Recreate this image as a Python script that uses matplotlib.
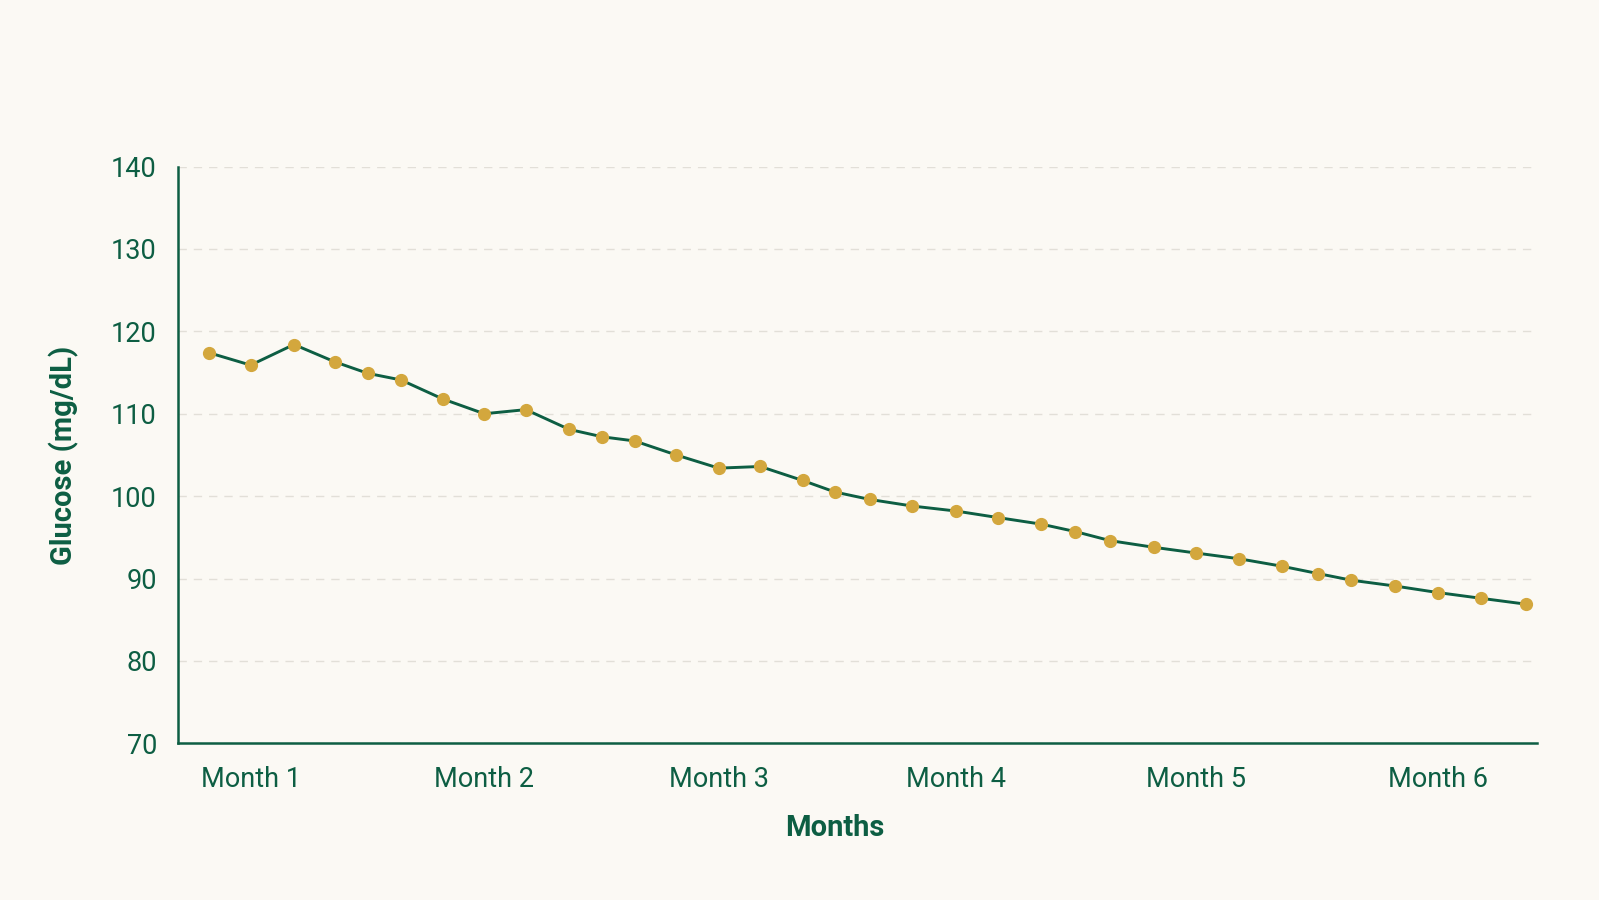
import matplotlib.pyplot as plt

# ----------------------------
# Data
# ----------------------------
days = [0, 4.9, 10, 14.8, 18.7, 22.6, 27.5, 32.4, 37.3, 42.4, 46.3, 50.1,
        55, 60, 64.9, 69.9, 73.7, 77.8, 82.8, 87.9, 92.9, 98, 102, 106.1,
        111.2, 116.2, 121.3, 126.3, 130.6, 134.5, 139.6, 144.7, 149.8, 155]
glucose = [117.4, 115.9, 118.4, 116.3, 114.9, 114.1, 111.8, 110.0, 110.5,
           108.1, 107.2, 106.7, 105.0, 103.4, 103.6, 101.9, 100.5, 99.6,
           98.8, 98.2, 97.4, 96.6, 95.7, 94.6, 93.8, 93.1, 92.4, 91.5, 90.6,
           89.8, 89.1, 88.3, 87.6, 86.9]
month_labels = ["Month 1", "Month 2", "Month 3", "Month 4", "Month 5", "Month 6"]
y_ticks = [70, 80, 90, 100, 110, 120, 130, 140]

# ----------------------------
# Style
# ----------------------------
bg = "#fbf9f4"
green = "#0d5e43"
gold = "#d3a73d"
grid_col = "#e2dfd8"

plt.rcParams["font.family"] = ["Roboto", "DejaVu Sans"]

fig = plt.figure(figsize=(15.99, 9.0), dpi=100, facecolor=bg)
ax = fig.add_axes([0.1116, 0.174, 0.8494, 0.641])
ax.set_facecolor(bg)

ax.plot(days, glucose, color=green, linewidth=2.1, zorder=3)
ax.plot(days, glucose, linestyle="none", marker="o", markersize=8.5,
        markerfacecolor=gold, markeredgecolor=gold, zorder=4)

ax.set_xlim(-3.6, 156.3)
ax.set_ylim(70, 140)
ax.set_yticks(y_ticks)
ax.set_xticks(days[1::6])
ax.set_xticklabels(month_labels)

ax.yaxis.grid(True, color=grid_col, linestyle=(0, (6, 5)), linewidth=1.0)
ax.set_axisbelow(True)

for side in ["top", "right"]:
    ax.spines[side].set_visible(False)
for side in ["left", "bottom"]:
    ax.spines[side].set_color(green)
    ax.spines[side].set_linewidth(1.8)

ax.tick_params(axis="both", length=0, colors=green, labelsize=19.5)
ax.tick_params(axis="x", pad=16)
ax.tick_params(axis="y", pad=15.5)

ax.set_xlabel("Months", color=green, fontsize=21, fontweight="bold")
ax.xaxis.set_label_coords(0.4835, -0.122)
ax.set_ylabel("Glucose (mg/dL)", color=green, fontsize=21, fontweight="bold", labelpad=23)

fig.savefig("out.png", dpi=100, facecolor=bg)
